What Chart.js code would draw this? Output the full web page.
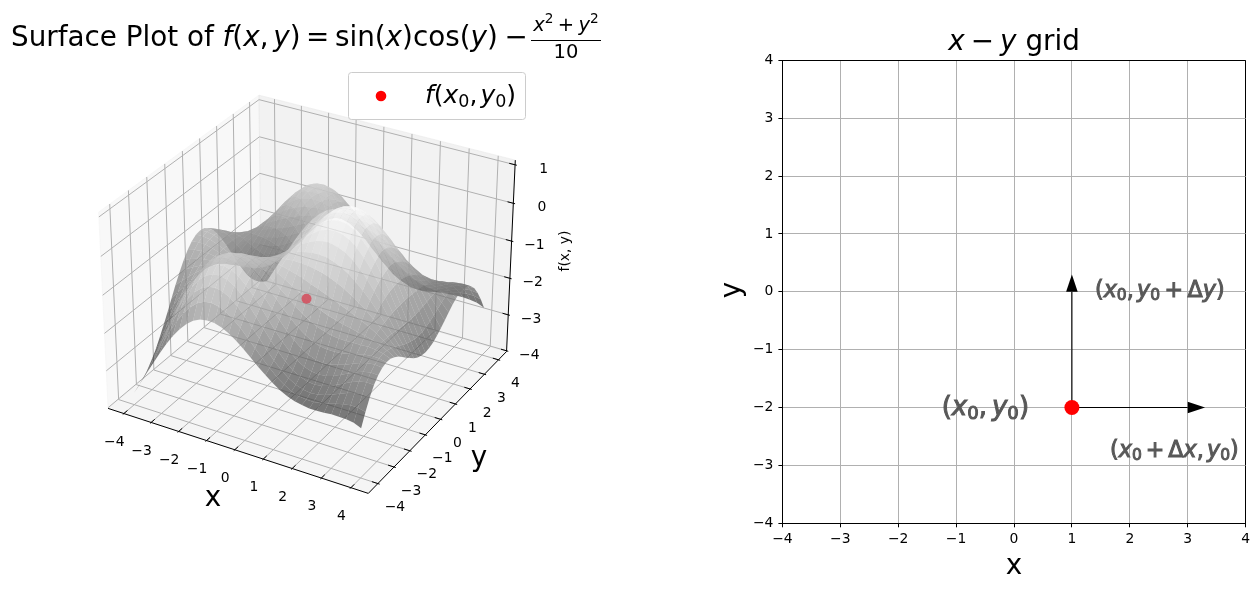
<!DOCTYPE html>
<html>
<head>
<meta charset="utf-8">
<script src="https://cdn.jsdelivr.net/npm/chart.js"></script>
<style>
body { margin: 0; background: #fff; width: 1259px; height: 590px; overflow: hidden; position: relative; }
canvas { position: absolute; top: 0; }
#surfaceChart { left: 0; }
#gridChart { left: 660px; }
</style>
</head>
<body>
<canvas id="surfaceChart" width="640" height="590"></canvas>
<canvas id="gridChart" width="599" height="590"></canvas>
<script>
// values
const gridX = [-4,-3.75,-3.5,-3.25,-3,-2.75,-2.5,-2.25,-2,-1.75,-1.5,-1.25,-1,-0.75,-0.5,-0.25,0,0.25,0.5,0.75,1,1.25,1.5,1.75,2,2.25,2.5,2.75,3,3.25,3.5,3.75,4];
const gridY = [-4,-3.75,-3.5,-3.25,-3,-2.75,-2.5,-2.25,-2,-1.75,-1.5,-1.25,-1,-0.75,-0.5,-0.25,0,0.25,0.5,0.75,1,1.25,1.5,1.75,2,2.25,2.5,2.75,3,3.25,3.5,3.75,4];
// rows from y=-4 to y=0, the surface mirrors across y=0
const halfRows = [
	[-3.70,-3.38,-3.05,-2.73,-2.41,-2.11,-1.83,-1.60,-1.41,-1.26,-1.17,-1.14,-1.15,-1.21,-1.31,-1.44,-1.60,-1.77,-1.94,-2.10,-2.25,-2.38,-2.48,-2.55,-2.59,-2.62,-2.62,-2.61,-2.59,-2.59,-2.60,-2.63,-2.71],
	[-3.63,-3.28,-2.92,-2.55,-2.19,-1.85,-1.54,-1.27,-1.06,-0.90,-0.81,-0.78,-0.82,-0.90,-1.04,-1.21,-1.41,-1.62,-1.82,-2.02,-2.20,-2.34,-2.45,-2.52,-2.55,-2.55,-2.52,-2.48,-2.42,-2.37,-2.34,-2.34,-2.39],
	[-3.53,-3.17,-2.78,-2.38,-1.99,-1.62,-1.29,-1.00,-0.77,-0.61,-0.52,-0.49,-0.54,-0.64,-0.80,-1.00,-1.23,-1.46,-1.70,-1.92,-2.11,-2.27,-2.38,-2.45,-2.48,-2.46,-2.41,-2.34,-2.26,-2.18,-2.12,-2.10,-2.12],
	[-3.41,-3.03,-2.63,-2.22,-1.82,-1.43,-1.09,-0.79,-0.55,-0.38,-0.29,-0.27,-0.32,-0.43,-0.60,-0.82,-1.06,-1.31,-1.56,-1.79,-1.99,-2.16,-2.27,-2.34,-2.36,-2.34,-2.28,-2.19,-2.10,-2.00,-1.93,-1.89,-1.90],
	[-3.25,-2.87,-2.47,-2.06,-1.66,-1.28,-0.93,-0.64,-0.40,-0.23,-0.14,-0.12,-0.17,-0.28,-0.45,-0.66,-0.90,-1.15,-1.40,-1.63,-1.83,-2.00,-2.11,-2.18,-2.20,-2.18,-2.12,-2.03,-1.94,-1.85,-1.78,-1.74,-1.75],
	[-3.06,-2.69,-2.31,-1.91,-1.53,-1.16,-0.83,-0.54,-0.32,-0.15,-0.06,-0.04,-0.08,-0.18,-0.34,-0.53,-0.76,-0.99,-1.22,-1.44,-1.63,-1.79,-1.90,-1.97,-2.00,-1.98,-1.93,-1.87,-1.79,-1.71,-1.66,-1.63,-1.66],
	[-2.83,-2.49,-2.13,-1.77,-1.41,-1.08,-0.77,-0.51,-0.30,-0.14,-0.05,-0.02,-0.05,-0.14,-0.27,-0.43,-0.63,-0.83,-1.03,-1.23,-1.40,-1.54,-1.65,-1.72,-1.75,-1.75,-1.73,-1.69,-1.64,-1.59,-1.57,-1.57,-1.62],
	[-2.58,-2.27,-1.95,-1.63,-1.32,-1.02,-0.76,-0.52,-0.34,-0.19,-0.10,-0.07,-0.08,-0.13,-0.23,-0.36,-0.51,-0.67,-0.83,-0.99,-1.14,-1.26,-1.36,-1.43,-1.48,-1.50,-1.51,-1.50,-1.50,-1.49,-1.51,-1.55,-1.63],
	[-2.32,-2.04,-1.77,-1.50,-1.24,-1.00,-0.78,-0.58,-0.42,-0.30,-0.21,-0.16,-0.15,-0.17,-0.23,-0.30,-0.40,-0.51,-0.63,-0.74,-0.85,-0.95,-1.04,-1.12,-1.18,-1.23,-1.27,-1.32,-1.36,-1.41,-1.48,-1.57,-1.69],
	[-2.04,-1.81,-1.59,-1.38,-1.18,-0.99,-0.82,-0.67,-0.54,-0.44,-0.35,-0.29,-0.26,-0.24,-0.25,-0.27,-0.31,-0.36,-0.42,-0.48,-0.56,-0.63,-0.71,-0.79,-0.87,-0.95,-1.04,-1.13,-1.23,-1.34,-1.47,-1.61,-1.77],
	[-1.77,-1.59,-1.43,-1.27,-1.14,-1.01,-0.89,-0.79,-0.69,-0.60,-0.52,-0.45,-0.39,-0.33,-0.28,-0.25,-0.23,-0.21,-0.22,-0.23,-0.27,-0.31,-0.38,-0.46,-0.56,-0.68,-0.81,-0.95,-1.12,-1.29,-1.48,-1.67,-1.88],
	[-1.52,-1.38,-1.27,-1.18,-1.10,-1.03,-0.97,-0.91,-0.84,-0.77,-0.70,-0.61,-0.52,-0.43,-0.33,-0.24,-0.16,-0.08,-0.03,0.00,0.01,-0.01,-0.07,-0.15,-0.27,-0.42,-0.59,-0.79,-1.01,-1.25,-1.49,-1.74,-2.00],
	[-1.29,-1.20,-1.14,-1.10,-1.08,-1.06,-1.05,-1.03,-0.99,-0.94,-0.86,-0.77,-0.66,-0.52,-0.38,-0.24,-0.10,0.03,0.13,0.21,0.26,0.26,0.21,0.13,-0.01,-0.19,-0.40,-0.65,-0.92,-1.22,-1.52,-1.82,-2.11],
	[-1.10,-1.04,-1.02,-1.03,-1.06,-1.09,-1.12,-1.13,-1.12,-1.08,-1.01,-0.91,-0.77,-0.61,-0.43,-0.24,-0.06,0.12,0.27,0.39,0.46,0.48,0.45,0.36,0.21,0.01,-0.24,-0.53,-0.85,-1.19,-1.54,-1.88,-2.21],
	[-0.96,-0.93,-0.94,-0.99,-1.05,-1.12,-1.18,-1.21,-1.22,-1.20,-1.13,-1.01,-0.86,-0.68,-0.47,-0.25,-0.03,0.19,0.37,0.52,0.61,0.65,0.63,0.53,0.37,0.15,-0.13,-0.45,-0.80,-1.18,-1.56,-1.93,-2.29],
	[-0.87,-0.86,-0.89,-0.96,-1.04,-1.13,-1.21,-1.27,-1.29,-1.27,-1.20,-1.08,-0.92,-0.72,-0.50,-0.25,-0.01,0.23,0.43,0.60,0.71,0.76,0.74,0.64,0.48,0.24,-0.05,-0.39,-0.77,-1.17,-1.57,-1.97,-2.34],
	[-0.84,-0.83,-0.87,-0.95,-1.04,-1.14,-1.22,-1.28,-1.31,-1.29,-1.22,-1.11,-0.94,-0.74,-0.50,-0.25,0.00,0.24,0.45,0.63,0.74,0.79,0.77,0.68,0.51,0.27,-0.03,-0.37,-0.76,-1.16,-1.58,-1.98,-2.36]
];
const surfaceZ = halfRows.concat(halfRows.slice(0, -1).reverse());
const surfacePoint = [1, -2, -0.85];
const xyTicks = [-4, -3, -2, -1, 0, 1, 2, 3, 4];
const zTicks = [-4, -3, -2, -1, 0, 1];
const gridPoint = [1, -2];
const arrowEnds = [[3, -2], [1, 0]];
const headLength = 0.3;
const headWidth = 0.2;
const noteX = [-1.25, 1.4, 1.66];
const noteY = [-2.13, -0.09, -2.85];

// view box of the 3d axes
const xyLim = 4.583;
const zLim = [-4.02, 1.12];
const zColorRange = [-3.695, 0.795];
const SURFACE_ALPHA = 0.7;

const FONT = '"DejaVu Sans"';
const elev = 30 * Math.PI / 180, azim = -60 * Math.PI / 180, camDist = 10;
const camW = [Math.cos(elev) * Math.cos(azim), Math.cos(elev) * Math.sin(azim), Math.sin(elev)];
const camU = [-Math.sin(azim), Math.cos(azim), 0];
const camV = [-Math.sin(elev) * Math.cos(azim), -Math.sin(elev) * Math.sin(azim), Math.cos(elev)];
const dot3 = (a, b) => a[0] * b[0] + a[1] * b[1] + a[2] * b[2];

function toBox(x, y, z) {
	return [x / xyLim * 0.595, y / xyLim * 0.595, ((z - zLim[0]) / (zLim[1] - zLim[0]) - 0.5) * 0.8929];
}
function project(x, y, z) {
	const p = toBox(x, y, z);
	const d = camDist - dot3(camW, p);
	return { x: dot3(camU, p) / d, y: dot3(camV, p) / d };
}
function depth(x, y, z) {
	return camDist - dot3(camW, toBox(x, y, z));
}

// text made of roman / oblique / sub / sup runs, the way mathtext sets it
function runFont(kind, size) {
	if (kind === 'i') return `italic ${size}px ${FONT}`;
	if (kind === 's' || kind === 'p') return `${size * 0.7}px ${FONT}`;
	return `${size}px ${FONT}`;
}
function runsWidth(ctx, runs, size) {
	let w = 0;
	runs.forEach(r => {
		if (typeof r === 'number') { w += r * size; return; }
		ctx.font = runFont(r[1], size);
		w += ctx.measureText(r[0]).width;
	});
	return w;
}
function drawRuns(ctx, x, y, runs, size, opts = {}) {
	ctx.save();
	ctx.textAlign = 'left';
	ctx.textBaseline = 'alphabetic';
	ctx.fillStyle = opts.color || '#000';
	if (opts.center) x -= runsWidth(ctx, runs, size) / 2;
	runs.forEach(r => {
		if (typeof r === 'number') { x += r * size; return; }
		const [text, kind] = r;
		ctx.font = runFont(kind, size);
		let dy = 0;
		if (kind === 's') dy = size * 0.15;
		if (kind === 'p') dy = -size * 0.4;
		ctx.fillText(text, x, y + dy);
		if (opts.stroke) {
			ctx.strokeStyle = opts.color;
			ctx.lineWidth = opts.stroke;
			ctx.strokeText(text, x, y + dy);
		}
		x += ctx.measureText(text).width;
	});
	ctx.restore();
	return x;
}
function label(ctx, text, x, y, size, align = 'center', rot = 0) {
	ctx.save();
	ctx.translate(x, y);
	ctx.rotate(rot);
	ctx.font = `${size}px ${FONT}`;
	ctx.fillStyle = '#000';
	ctx.textAlign = align;
	ctx.textBaseline = 'middle';
	ctx.fillText(text, 0, 0);
	ctx.restore();
}
const minus = v => String(v).replace('-', '\u2212');

function polyline(points, color, width) {
	return {
		data: points.map(p => project(p[0], p[1], p[2])),
		showLine: true, pointRadius: 0, borderColor: color, borderWidth: width
	};
}
function polygon(points, fillColor, edgeColor, edgeWidth) {
	return {
		data: points.concat([points[0]]).map(p => project(p[0], p[1], p[2])),
		showLine: true, pointRadius: 0, fill: 'shape',
		backgroundColor: fillColor, borderColor: edgeColor, borderWidth: edgeWidth
	};
}

function build_surface_datasets() {
	const L = xyLim, z0 = zLim[0], z1 = zLim[1];
	const sets = [];
	// panes
	sets.push(polygon([[-L, -L, z0], [-L, L, z0], [-L, L, z1], [-L, -L, z1]], 'rgba(242,242,242,0.5)', 'rgba(242,242,242,0.5)', 1));
	sets.push(polygon([[-L, L, z0], [L, L, z0], [L, L, z1], [-L, L, z1]], 'rgba(230,230,230,0.5)', 'rgba(230,230,230,0.5)', 1));
	sets.push(polygon([[-L, -L, z0], [L, -L, z0], [L, L, z0], [-L, L, z0]], 'rgba(236,236,236,0.5)', 'rgba(236,236,236,0.5)', 1));
	// grid lines on the panes
	xyTicks.forEach(t => {
		sets.push(polyline([[t, -L, z0], [t, L, z0], [t, L, z1]], '#b0b0b0', 1));
		sets.push(polyline([[L, t, z0], [-L, t, z0], [-L, t, z1]], '#b0b0b0', 1));
	});
	zTicks.forEach(t => {
		sets.push(polyline([[-L, -L, t], [-L, L, t], [L, L, t]], '#b0b0b0', 1));
	});
	// axis lines and ticks
	sets.push(polyline([[-L, -L, z0], [L, -L, z0]], '#000', 1));
	sets.push(polyline([[L, -L, z0], [L, L, z0]], '#000', 1));
	sets.push(polyline([[L, L, z0], [L, L, z1]], '#000', 1));
	xyTicks.forEach(t => {
		sets.push(polyline([[t, -L - 0.06, z0], [t, -L + 0.2, z0]], '#000', 1));
		sets.push(polyline([[L - 0.2, t, z0], [L + 0.06, t, z0]], '#000', 1));
	});
	zTicks.forEach(t => {
		sets.push(polyline([[L - 0.2, L, t], [L + 0.06, L, t]], '#000', 1));
	});
	// surface facets, farthest first
	const facets = [];
	for (let j = 0; j < gridY.length - 1; j++) {
		for (let i = 0; i < gridX.length - 1; i++) {
			const corners = [
				[gridX[i], gridY[j], surfaceZ[j][i]],
				[gridX[i + 1], gridY[j], surfaceZ[j][i + 1]],
				[gridX[i + 1], gridY[j + 1], surfaceZ[j + 1][i + 1]],
				[gridX[i], gridY[j + 1], surfaceZ[j + 1][i]]
			];
			const zMean = corners.reduce((a, c) => a + c[2], 0) / 4;
			const far = corners.reduce((a, c) => a + depth(c[0], c[1], c[2]), 0) / 4;
			const g = Math.round(Math.max(0, Math.min(1, (zMean - zColorRange[0]) / (zColorRange[1] - zColorRange[0]))) * 255);
			facets.push({ corners, far, color: `rgba(${g},${g},${g},${SURFACE_ALPHA})` });
		}
	}
	facets.sort((a, b) => b.far - a.far);
	facets.forEach(f => sets.push(polygon(f.corners, f.color, 'transparent', 0)));
	// the marked point
	sets.push({
		data: [project(surfacePoint[0], surfacePoint[1], surfacePoint[2])],
		pointRadius: 5, pointBackgroundColor: 'rgba(212,82,96,0.9)', pointBorderWidth: 0
	});
	// chart.js paints the first dataset last
	return sets.reverse();
}

const surfaceLabels = {
	id: 'surfaceLabels',
	afterDraw(chart) {
		const ctx = chart.ctx;
		const px = chart.scales.x, py = chart.scales.y;
		const pos = (x, y, z) => {
			const p = project(x, y, z);
			return [px.getPixelForValue(p.x), py.getPixelForValue(p.y)];
		};
		const L = xyLim;
		xyTicks.forEach(t => {
			let [a, b] = pos(t, -L, zLim[0]);
			label(ctx, minus(t), a - 9.5, b + 28.5, 13.9);
			[a, b] = pos(L, t, zLim[0]);
			label(ctx, minus(t), a + 17, b + 24, 13.9);
		});
		zTicks.forEach(t => {
			const [a, b] = pos(L, L, t);
			label(ctx, minus(t), a + 33, b + 4.5, 13.9, 'right');
		});
		label(ctx, 'x', 213, 499, 27.8);
		label(ctx, 'y', 479, 459, 27.8);
		label(ctx, 'f(x, y)', 565, 251, 13.9, 'center', -Math.PI / 2);

		// title
		const S = 27.8;
		drawRuns(ctx, 11, 46, [
			['Surface Plot of ', 'r'], ['f', 'i'], ['(', 'r'], ['x', 'i'], [',', 'r'], 0.17, ['y', 'i'], [')', 'r'], 0.2,
			['=', 'r'], 0.2, ['sin', 'r'], ['(', 'r'], ['x', 'i'], [')', 'r'], ['cos', 'r'], ['(', 'r'], ['y', 'i'], [')', 'r'], 0.24, ['\u2212', 'r']
		], S);
		ctx.fillStyle = '#000';
		ctx.fillRect(531, 40, 70, 1);
		const F = 19.5;
		drawRuns(ctx, 566, 31, [['x', 'i'], ['2', 'p'], 0.22, ['+', 'r'], 0.22, ['y', 'i'], ['2', 'p']], F, { center: true });
		drawRuns(ctx, 566, 58, [['10', 'r']], F, { center: true });

		// legend box
		ctx.save();
		ctx.beginPath();
		ctx.roundRect(348.5, 72.5, 177, 47, 3);
		ctx.fillStyle = 'rgba(255,255,255,0.8)';
		ctx.fill();
		ctx.strokeStyle = '#ccc';
		ctx.lineWidth = 1;
		ctx.stroke();
		ctx.beginPath();
		ctx.arc(381, 96, 5.3, 0, Math.PI * 2);
		ctx.fillStyle = '#ff0000';
		ctx.fill();
		ctx.restore();
		drawRuns(ctx, 425, 103, [['f', 'i'], ['(', 'r'], ['x', 'i'], ['0', 's'], [',', 'r'], 0.12, ['y', 'i'], ['0', 's'], [')', 'r']], 25);
	}
};

new Chart(document.getElementById('surfaceChart'), {
	type: 'scatter',
	data: { datasets: build_surface_datasets() },
	options: {
		responsive: false,
		animation: false,
		events: [],
		layout: { padding: 0, autoPadding: false },
		scales: {
			x: { type: 'linear', display: false, min: -311 / 2505, max: 329 / 2505 },
			y: { type: 'linear', display: false, min: -305.3 / 2505, max: 284.7 / 2505 }
		},
		plugins: { legend: { display: false }, tooltip: { enabled: false } }
	},
	plugins: [surfaceLabels]
});

// right panel
function arrow_datasets() {
	const sets = [];
	arrowEnds.forEach(end => {
		const dx = Math.sign(end[0] - gridPoint[0]), dy = Math.sign(end[1] - gridPoint[1]);
		sets.push({
			data: [{ x: gridPoint[0], y: gridPoint[1] }, { x: end[0], y: end[1] }],
			showLine: true, pointRadius: 0, borderColor: '#000', borderWidth: 1.1
		});
		sets.push({
			data: [
				{ x: end[0] - dy * headWidth / 2, y: end[1] - dx * headWidth / 2 },
				{ x: end[0] + dx * headLength, y: end[1] + dy * headLength },
				{ x: end[0] + dy * headWidth / 2, y: end[1] + dx * headWidth / 2 },
				{ x: end[0] - dy * headWidth / 2, y: end[1] - dx * headWidth / 2 }
			],
			showLine: true, pointRadius: 0, fill: 'shape',
			backgroundColor: '#000', borderColor: '#000', borderWidth: 0
		});
	});
	return sets;
}

const gridLabels = {
	id: 'gridLabels',
	afterDraw(chart) {
		const ctx = chart.ctx;
		const X = chart.scales.x, Y = chart.scales.y;
		const gray = { color: '#585858', stroke: 1 };
		drawRuns(ctx, X.getPixelForValue(noteX[0]), Y.getPixelForValue(noteY[0]),
			[['(', 'r'], ['x', 'i'], ['0', 's'], [',', 'r'], 0.19, ['y', 'i'], ['0', 's'], [')', 'r']], 26, gray);
		drawRuns(ctx, X.getPixelForValue(noteX[1]), Y.getPixelForValue(noteY[1]),
			[['(', 'r'], ['x', 'i'], ['0', 's'], [',', 'r'], 0.15, ['y', 'i'], ['0', 's'], 0.2, ['+', 'r'], 0.2, ['\u0394', 'r'], ['y', 'i'], [')', 'r']], 22.2, gray);
		drawRuns(ctx, X.getPixelForValue(noteX[2]), Y.getPixelForValue(noteY[2]),
			[['(', 'r'], ['x', 'i'], ['0', 's'], 0.18, ['+', 'r'], 0.18, ['\u0394', 'r'], ['x', 'i'], [',', 'r'], 0.15, ['y', 'i'], ['0', 's'], [')', 'r']], 22.2, gray);

		const mid = (X.left + X.right) / 2;
		drawRuns(ctx, mid, 50, [['x', 'i'], 0.22, ['\u2212', 'r'], 0.22, ['y', 'i'], [' grid', 'r']], 27.8, { center: true });
		label(ctx, 'x', mid, 567, 27.8);
		label(ctx, 'y', 73, 290, 27.8, 'center', -Math.PI / 2);
	}
};

const spineColor = c => (Math.abs(c.tick.value) === 4 ? '#000' : '#b0b0b0');

new Chart(document.getElementById('gridChart'), {
	type: 'scatter',
	data: {
		datasets: [
			{
				data: [{ x: gridPoint[0], y: gridPoint[1] }],
				pointRadius: 7.5, pointBackgroundColor: '#ff0000', pointBorderWidth: 0
			},
			...arrow_datasets()
		]
	},
	options: {
		responsive: false,
		animation: false,
		events: [],
		layout: { padding: { left: 82.4, right: 13.4, top: 60.3, bottom: 36.7 }, autoPadding: false },
		scales: {
			x: {
				type: 'linear', min: -4, max: 4,
				afterFit(s) { s.height = 30; s.paddingLeft = 0; s.paddingRight = 0; },
				border: { color: '#000', width: 1 },
				grid: { color: spineColor, lineWidth: 1, tickLength: 4, tickColor: '#000' },
				ticks: {
					stepSize: 1, maxRotation: 0, padding: 4, color: '#000',
					font: { family: 'DejaVu Sans', size: 13.9 },
					callback: v => minus(v)
				}
			},
			y: {
				type: 'linear', min: -4, max: 4,
				afterFit(s) { s.width = 40; s.paddingTop = 0; s.paddingBottom = 0; },
				border: { color: '#000', width: 1 },
				grid: { color: spineColor, lineWidth: 1, tickLength: 4, tickColor: '#000' },
				ticks: {
					stepSize: 1, padding: 5, color: '#000',
					font: { family: 'DejaVu Sans', size: 13.9 },
					callback: v => minus(v)
				}
			}
		},
		plugins: { legend: { display: false }, tooltip: { enabled: false } }
	},
	plugins: [gridLabels]
});
</script>
</body>
</html>
